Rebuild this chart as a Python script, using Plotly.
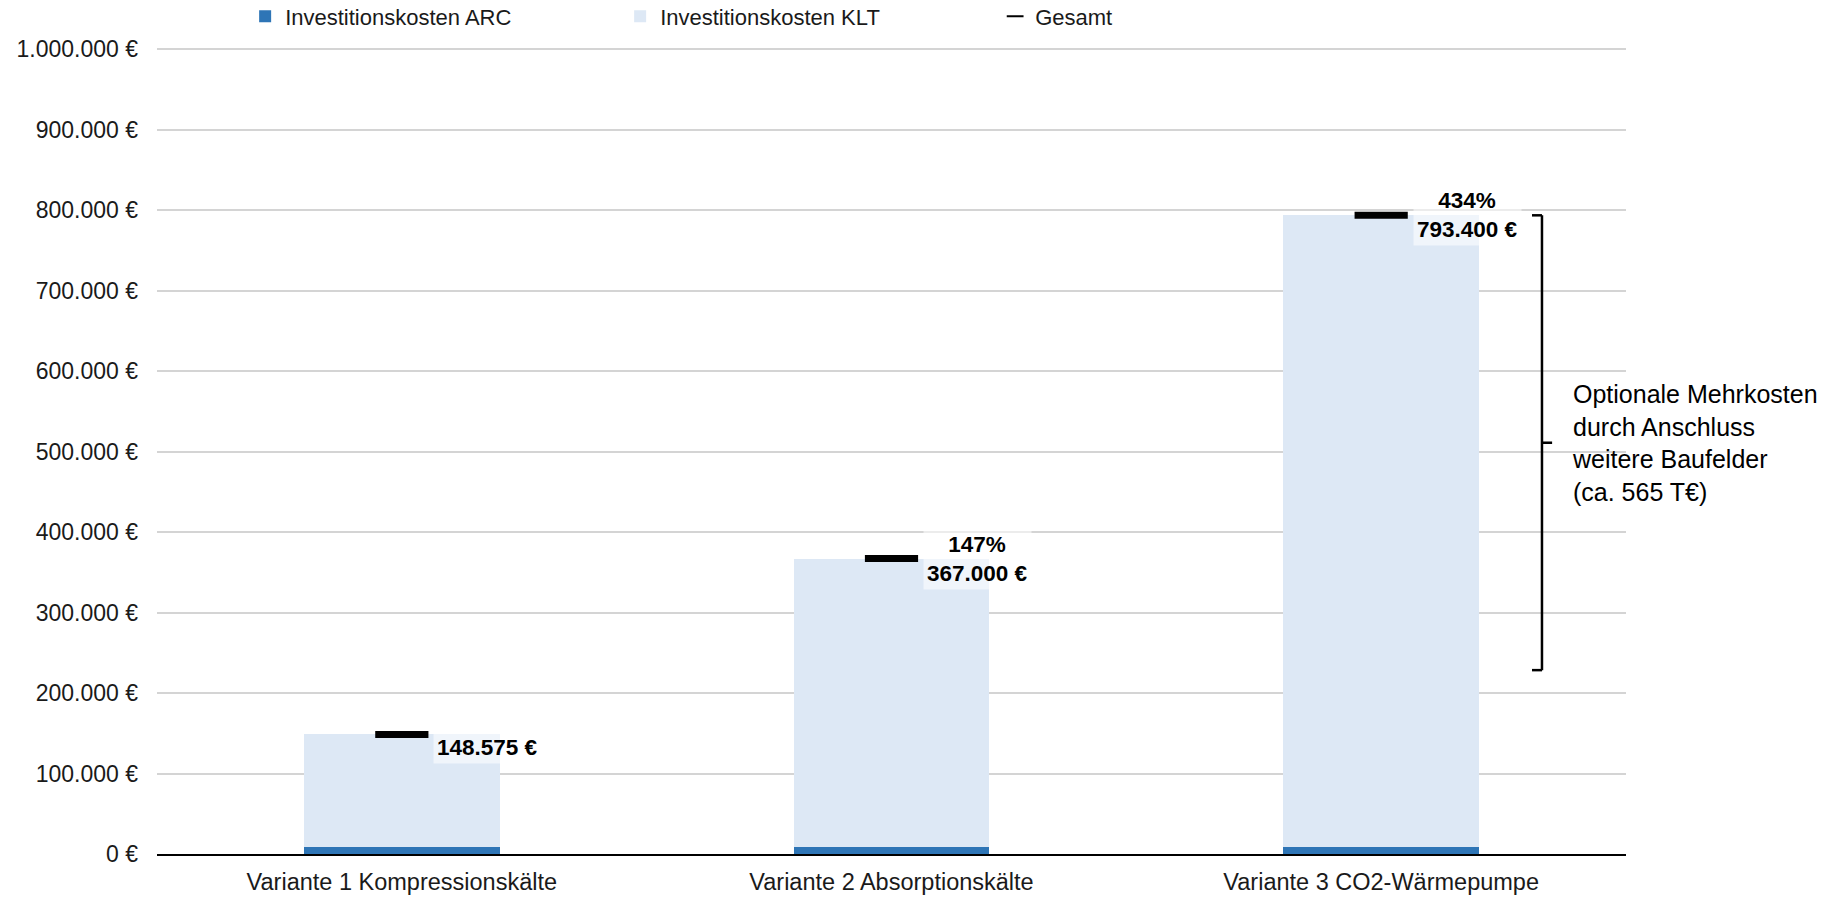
import plotly.graph_objects as go

# Investment cost comparison of three cooling variants
categories = [
    "Variante 1 Kompressionskälte",
    "Variante 2 Absorptionskälte",
    "Variante 3 CO2-Wärmepumpe",
]
kosten_arc = [9000, 9000, 9000]
gesamt = [148575, 367000, 793400]
kosten_klt = [g - a for g, a in zip(gesamt, kosten_arc)]

# optional extra costs for connecting further building plots (thousand €)
mehrkosten_t = 565
y_ticks = [0, 100000, 200000, 300000, 400000, 500000, 600000, 700000, 800000, 900000, 1000000]

FONT = "Liberation Sans, Arial, sans-serif"
DARK_BLUE = "#2e75b6"
LIGHT_BLUE = "#dde8f5"


def euro(v):
    return f"{v:,.0f}".replace(",", ".") + " €"


fig = go.Figure()
fig.add_trace(go.Bar(
    x=categories, y=kosten_arc, name="Investitionskosten ARC",
    marker=dict(color=DARK_BLUE, line=dict(width=0)),
))
fig.add_trace(go.Bar(
    x=categories, y=kosten_klt, name="Investitionskosten KLT",
    marker=dict(color=LIGHT_BLUE, line=dict(width=0)),
))
fig.add_trace(go.Scatter(
    x=categories, y=gesamt, mode="markers", name="Gesamt",
    legendgroup="gesamt", showlegend=False,
    marker=dict(symbol="line-ew", size=38, color="black",
                line=dict(color="black", width=7)),
))
# thin dash used as the legend symbol for the totals
fig.add_trace(go.Scatter(
    x=[None], y=[None], mode="markers", name="Gesamt",
    legendgroup="gesamt", showlegend=True,
    marker=dict(symbol="line-ew", size=12, color="black",
                line=dict(color="black", width=2)),
))

# value labels: total plus increase relative to variant 1
base = gesamt[0]
for i, (cat, tot) in enumerate(zip(categories, gesamt)):
    if i == 0:
        txt = f"<b>{euro(tot)}</b>"
        yshift = -13
    else:
        pct = round((tot - base) / base * 100)
        txt = f"<b>{pct}%</b><br><b>{euro(tot)}</b>"
        yshift = 0
    fig.add_annotation(
        x=cat, y=tot, xref="x", yref="y", text=txt, showarrow=False,
        xanchor="center", yanchor="middle", xshift=86, yshift=yshift,
        align="center", font=dict(family=FONT, size=22.5, color="black"),
        bgcolor="rgba(255,255,255,0.55)", borderpad=3,
    )

# bracket marking the optional extra costs on top of variant 3
top = gesamt[2]
bottom = gesamt[2] - mehrkosten_t * 1000
mid = (top + bottom) / 2
bx, bx_in, bx_out = 0.9428, 0.936, 0.9497
bracket = dict(type="line", xref="paper", yref="y", line=dict(color="black", width=2.5))
fig.add_shape(x0=bx, x1=bx, y0=bottom, y1=top, **bracket)
fig.add_shape(x0=bx_in, x1=bx, y0=top, y1=top, **bracket)
fig.add_shape(x0=bx_in, x1=bx, y0=bottom, y1=bottom, **bracket)
fig.add_shape(x0=bx, x1=bx_out, y0=mid, y1=mid, **bracket)
fig.add_annotation(
    x=0.962, y=mid, xref="paper", yref="y", xanchor="left", yanchor="middle",
    align="left", showarrow=False,
    text=f"Optionale Mehrkosten<br>durch Anschluss<br>weitere Baufelder<br>(ca. {mehrkosten_t} T€)",
    font=dict(family=FONT, size=25, color="black"),
)

fig.update_layout(
    width=1844, height=897,
    barmode="stack", bargap=0.6,
    plot_bgcolor="white", paper_bgcolor="white",
    margin=dict(l=157, r=218, t=47, b=43, autoexpand=False),
    font=dict(family=FONT, size=22, color="#1a1a1a"),
    legend=dict(
        orientation="h", x=0.06, xanchor="left", y=1.038, yanchor="middle",
        font=dict(family=FONT, size=22, color="#1a1a1a"),
        entrywidth=330, entrywidthmode="pixels",
        traceorder="normal", bgcolor="rgba(0,0,0,0)",
    ),
    xaxis=dict(
        type="category", showgrid=False, showline=True,
        linecolor="black", linewidth=2, ticks="",
        ticklabelstandoff=6,
        tickfont=dict(family=FONT, size=23.5, color="#1a1a1a"),
    ),
    yaxis=dict(
        # small headroom so the 1.000.000 € gridline is drawn
        range=[0, 1002500], tickmode="array", tickvals=y_ticks,
        ticktext=[euro(v) for v in y_ticks],
        showgrid=True, gridcolor="#d4d4d4", gridwidth=1.5,
        zeroline=False, showline=False, ticks="",
        ticklabelstandoff=18,
        tickfont=dict(family=FONT, size=23, color="#1a1a1a"),
    ),
)

fig.write_html("out.html")
